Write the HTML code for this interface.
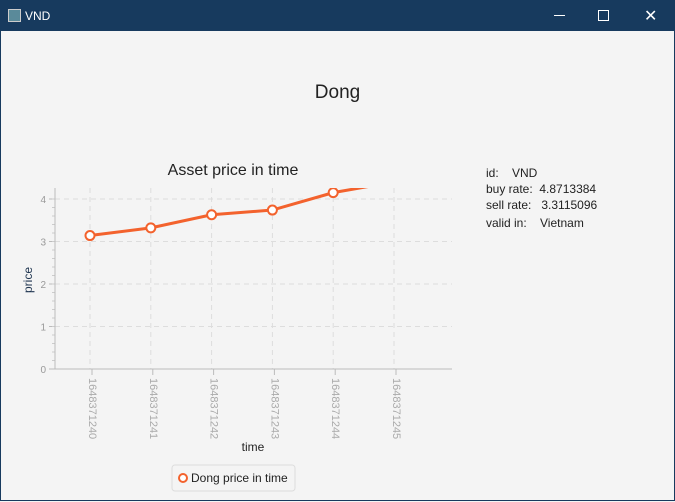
<!DOCTYPE html>
<html><head><meta charset="utf-8"><style>
body{margin:0;width:675px;height:502px;overflow:hidden;font-family:"Liberation Sans",sans-serif;background:#f4f4f4;}
#title{position:absolute;left:0;top:0;width:675px;height:31px;background:#173a5e;color:#fff;font-size:12px;}
#frame{position:absolute;left:0;top:31px;width:673px;height:469px;border:1px solid #173a5e;border-top:none;background:#f4f4f4;}
.info{position:absolute;left:486px;font-size:12px;color:#222;}
</style></head><body>
<div id="title">
 <div style="position:absolute;left:8px;top:9px;width:11px;height:11px;border:1px solid #ccc;background:#5a8a9a"></div>
 <span style="position:absolute;left:25px;top:9px">VND</span>
 <div style="position:absolute;left:554px;top:15px;width:11px;height:1px;background:#fff"></div>
 <div style="position:absolute;left:598px;top:10px;width:9px;height:9px;border:1px solid #fff"></div>
 <div style="position:absolute;left:644px;top:6px;font-size:16px">✕</div>
</div>
<div id="frame"></div>
<div style="position:absolute;left:0;width:675px;top:82px;text-align:center;font-size:19px;color:#222">Dong</div>
<div class="info" style="top:166px">id:&nbsp;&nbsp;&nbsp; VND</div>
<div class="info" style="top:182px">buy rate:&nbsp; 4.8713384</div>
<div class="info" style="top:198px">sell rate:&nbsp;&nbsp; 3.3115096</div>
<div class="info" style="top:216px">valid in:&nbsp;&nbsp;&nbsp; Vietnam</div>
<svg id="chart" width="675" height="502" style="position:absolute;left:0;top:0"></svg>
<script>
const categories=["1648371240","1648371241","1648371242","1648371243","1648371244","1648371245"];
const values=[3.14,3.32,3.63,3.74,4.15,4.4];
const yTicks=[0,1,2,3,4];
const X0=90,DX=60.8,Y0=369,KY=42.5,L=55,R=452,T=188;
const xs=i=>X0+i*DX, ys=v=>Y0-v*KY;
const svg=document.getElementById('chart');const NS="http://www.w3.org/2000/svg";
function el(t,a,p){const e=document.createElementNS(NS,t);for(const k in a)e.setAttribute(k,a[k]);(p||svg).appendChild(e);return e;}
let t=el('text',{x:233,y:175,'text-anchor':'middle','font-size':16,fill:'#222','font-family':'Liberation Sans'});t.textContent='Asset price in time';


yTicks.forEach(v=>{const g=el('line',{x1:L,x2:R,y1:ys(v),y2:ys(v),stroke:'#ddd','stroke-dasharray':'5,4'});


const lb=el('text',{x:46,y:ys(v)+4,'text-anchor':'end','font-size':10,fill:'#999','font-family':'Liberation Sans'});lb.textContent=v;


el('line',{x1:L-6,x2:L,y1:ys(v),y2:ys(v),stroke:'#bbb'});});
for(let v=0.2;v<4.2;v+=0.2){el('line',{x1:L-3,x2:L,y1:ys(v),y2:ys(v),stroke:'#ccc'});}
categories.forEach((c,i)=>{const g=el('line',{x1:xs(i),x2:xs(i),y1:T,y2:Y0,stroke:'#ddd','stroke-dasharray':'5,4'});


el('line',{x1:xs(i)+2,x2:xs(i)+2,y1:Y0,y2:Y0+6,stroke:'#bbb'});
const lb=el('text',{x:0,y:0,transform:`translate(${xs(i)-1},${Y0+9}) rotate(90)`,'font-size':11,fill:'#aaa','font-family':'Liberation Sans'});lb.textContent=c;

});
el('line',{x1:L,x2:L,y1:T,y2:Y0,stroke:'#bbb'});el('line',{x1:L,x2:R,y1:Y0,y2:Y0,stroke:'#bbb'});
const cp=el('clipPath',{id:'cp'});el('rect',{x:L,y:T,width:R-L,height:Y0-T},cp);
const grp=el('g',{'clip-path':'url(#cp)'});
const line=el('polyline',{points:values.map((v,i)=>xs(i)+','+ys(v)).join(' '),fill:'none',stroke:'#f3622d','stroke-width':3},grp);


values.forEach((v,i)=>{const c=el('circle',{cx:xs(i),cy:ys(v),r:4.5,fill:'#fff',stroke:'#f3622d','stroke-width':2},grp);

});
t=el('text',{x:253,y:451,'text-anchor':'middle','font-size':12,fill:'#222','font-family':'Liberation Sans'});t.textContent='time';


t=el('text',{x:0,y:0,transform:'translate(32,280) rotate(-90)','text-anchor':'middle','font-size':12,fill:'#1f3550','font-family':'Liberation Sans'});t.textContent='price';


const lg=el('rect',{x:172,y:465,width:123,height:26,rx:3,fill:'#f4f4f4',stroke:'#ddd'});


el('circle',{cx:183,cy:478,r:4,fill:'#fff',stroke:'#f3622d','stroke-width':2});
t=el('text',{x:191,y:482,'font-size':12,fill:'#222','font-family':'Liberation Sans'});t.textContent='Dong price in time';


</script>
</body></html>
